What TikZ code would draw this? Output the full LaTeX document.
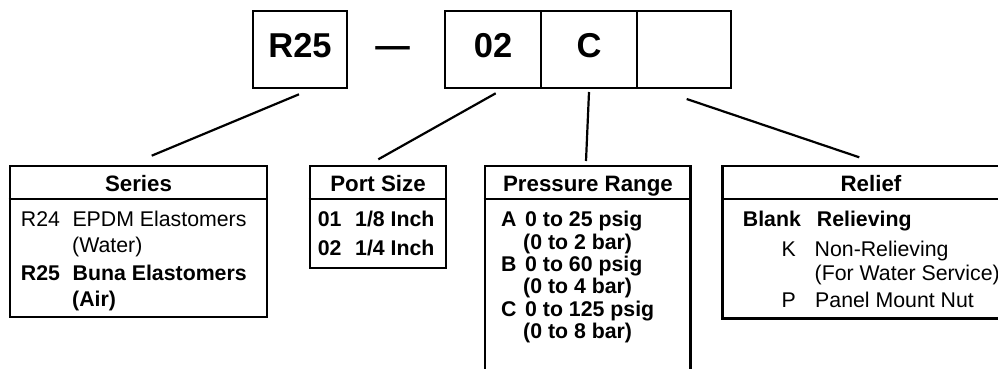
\documentclass[tikz,border=0pt]{standalone}
\usepackage{fontspec}
\setmainfont{Liberation Sans}
\usetikzlibrary{calc}
\begin{document}
\begin{tikzpicture}[x=1pt,y=-1pt,
  box/.style={draw, line width=2.6pt, inner sep=0pt},
  hdr/.style={font=\fontsize{22.3}{24}\selectfont\bfseries, anchor=base, inner sep=0pt},
  txt/.style={font=\fontsize{21.3}{23}\selectfont, anchor=base west, inner sep=0pt},
  btxt/.style={font=\fontsize{21.3}{23}\selectfont\bfseries, anchor=base west, inner sep=0pt},
  rtxt/.style={font=\fontsize{21.3}{23}\selectfont, anchor=base east, inner sep=0pt},
  big/.style={font=\fontsize{34.5}{36}\selectfont\bfseries, anchor=base, inner sep=0pt},
  conn/.style={line width=2.2pt},
  divider/.style={line width=2pt}]
\clip (0,0) rectangle (998,369);
\fill[white] (0,0) rectangle (998,369);

% top code boxes
\node[box, minimum width=94pt, minimum height=77pt] (r25box) at (300,49.5) {};
\node[box, minimum width=96pt, minimum height=77pt] (box02) at (493,49.5) {};
\node[box, minimum width=96pt, minimum height=77pt] (boxC) at (589,49.5) {};
\node[box, minimum width=94pt, minimum height=77pt] (boxR) at (684,49.5) {};
\node[big] (t25) at (300,57.5) {R25};
\node[big] (tdash) at (392.5,57.5) {—};
\node[big] (t02) at (493,57.5) {02};
\node[big] (tC) at (589,57.5) {C};

% tables
\node[box, minimum width=257pt, minimum height=151pt] (series) at (138.5,241.5) {};
\node[box, minimum width=136pt, minimum height=102pt] (port) at (378,217) {};
\node[box, minimum width=205.5pt, minimum height=234pt] (press) at (587.75,283) {};
\node[box, minimum width=289.5pt, minimum height=152.5pt] (relief) at (867.25,242.25) {};

\foreach \t in {series,port,press,relief}{
  \draw[divider] ($(\t.north west)+(0,34)$) -- ($(\t.north east)+(0,34)$);
}

% headers
\node[hdr] (hs) at (138.5,191.5) {Series};
\node[hdr] (hp) at (378,191.5) {Port Size};
\node[hdr] (hr) at (588,191.5) {Pressure Range};
\node[hdr] (hl) at (871,191.5) {Relief};

% Series entries
\node[txt] (s1a) at (20.7,226.7) {R24};
\node[txt] (s1b) at (72.3,226.7) {EPDM Elastomers};
\node[txt] (s1c) at (72,252.3) {(Water)};
\node[btxt] (s2a) at (20.7,280.7) {R25};
\node[btxt] (s2b) at (72.5,280.7) {Buna Elastomers};
\node[btxt] (s2c) at (72,306.7) {(Air)};

% Port size entries
\node[btxt] (p1a) at (317.7,226.7) {01};
\node[btxt] (p1b) at (355,226.7) {1/8 Inch};
\node[btxt] (p2a) at (317.7,255.7) {02};
\node[btxt] (p2b) at (355,255.7) {1/4 Inch};

% Pressure entries
\node[btxt] (ra) at (501,226.7) {A};
\node[btxt] (ra1) at (525,226.7) {0 to 25 psig};
\node[btxt] (ra2) at (523,249.3) {(0 to 2 bar)};
\node[btxt] (rb) at (501,271.7) {B};
\node[btxt] (rb1) at (525,271.7) {0 to 60 psig};
\node[btxt] (rb2) at (523,293.3) {(0 to 4 bar)};
\node[btxt] (rc) at (501,316) {C};
\node[btxt] (rc1) at (525,316) {0 to 125 psig};
\node[btxt] (rc2) at (523,338.3) {(0 to 8 bar)};

% Relief entries
\node[btxt] (l1a) at (742.7,226.7) {Blank};
\node[btxt] (l1b) at (816.7,226.7) {Relieving};
\node[rtxt] (l2a) at (796,256.7) {K};
\node[txt] (l2b) at (814.5,256.7) {Non-Relieving};
\node[txt] (l2c) at (814.5,280.7) {(For Water Service)};
\node[rtxt] (l3a) at (796,307.3) {P};
\node[txt] (l3b) at (815,307.3) {Panel Mount Nut};

% connectors
\coordinate (cs1) at (299,94.3);
\coordinate (cs2) at (151.7,155.7);
\coordinate (cp1) at (495.7,93.3);
\coordinate (cp2) at (378.3,159.3);
\coordinate (cc1) at (589,92);
\coordinate (cc2) at (586,161);
\coordinate (cr1) at (686.7,99);
\coordinate (cr2) at (859.3,157.3);
\draw[conn] (cs1) -- (cs2);
\draw[conn] (cp1) -- (cp2);
\draw[conn] (cc1) -- (cc2);
\draw[conn] (cr1) -- (cr2);
\end{tikzpicture}
\end{document}
